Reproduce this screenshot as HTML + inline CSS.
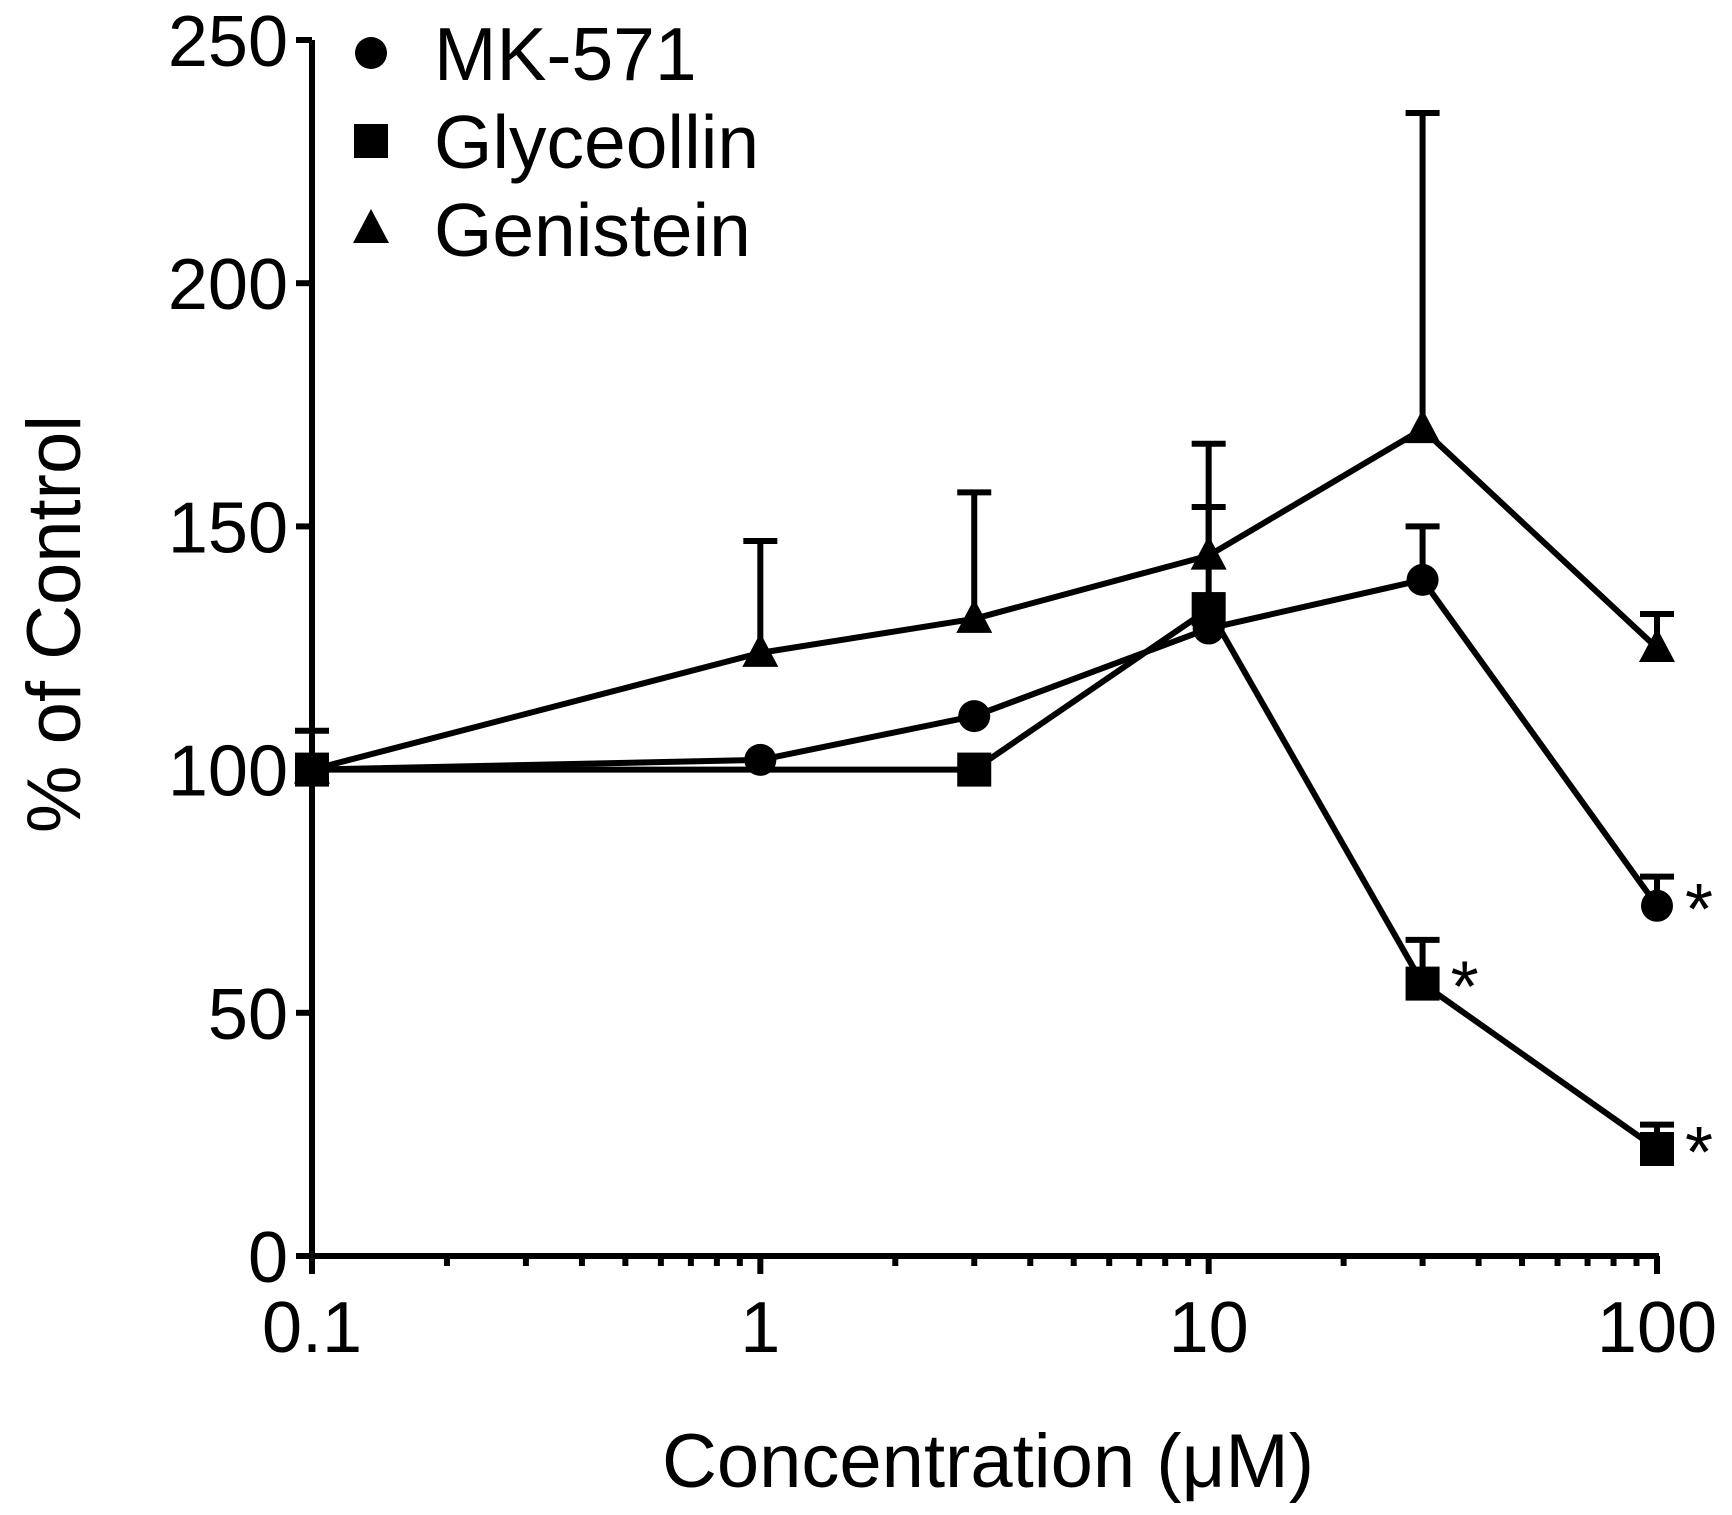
<!DOCTYPE html>
<html><head><meta charset="utf-8"><style>
html,body{margin:0;padding:0;background:#fff;}
svg text{font-family:"Liberation Sans",Arial,sans-serif;fill:#000;}
</style></head><body>
<svg id="chart" width="1732" height="1510" viewBox="0 0 1732 1510" xmlns="http://www.w3.org/2000/svg">
<g id="axes"></g>
<g id="series"></g>
<g id="legend"></g>
<text x="988" y="1487" font-size="76" text-anchor="middle">Concentration (μM)</text>
<text transform="translate(80,624) rotate(-90)" font-size="76" text-anchor="middle">% of Control</text>
</svg>
<script>
const xTicks = [0.1, 1, 10, 100];
const xTickLabels = ["0.1", "1", "10", "100"];
const yTicks = [0, 50, 100, 150, 200, 250];
const seriesNames = ["MK-571", "Glyceollin", "Genistein"];
const mkX = [0.1, 1, 3, 10, 30, 100];
const mkY = [100, 102, 111, 129, 139, 72];
const mkErr = [0, 0, 0, 0, 11, 6];
const glyX = [0.1, 3, 10, 30, 100];
const glyY = [100, 100, 133, 56, 22];
const glyErr = [8, 0, 21, 9, 5];
const genX = [0.1, 1, 3, 10, 30, 100];
const genY = [100, 124, 131, 144, 170, 125];
const genErr = [0, 23, 26, 23, 65, 7];
const mkStars = [false, false, false, false, false, true];
const glyStars = [false, false, false, true, true];

const NS = "http://www.w3.org/2000/svg";
const X0 = 312, X1 = 1657, Y0 = 1256, Y1 = 40;
function xs(v){ return X0 + (Math.log10(v) - Math.log10(0.1)) / 3 * (X1 - X0); }
function ys(v){ return Y0 - v / 250 * (Y0 - Y1); }
function mk(tag, attrs, parent){ const e = document.createElementNS(NS, tag); for (const k in attrs) e.setAttribute(k, attrs[k]); parent.appendChild(e); return e; }
const axes = document.getElementById('axes');
const ser = document.getElementById('series');
const leg = document.getElementById('legend');
const SW = 6;

let el = mk('line', {x1:X0, y1:Y1, x2:X0, y2:Y0, stroke:'#000', 'stroke-width':SW}, axes);


el = mk('line', {x1:X0-2, y1:Y0, x2:X1+2, y2:Y0, stroke:'#000', 'stroke-width':SW}, axes);


yTicks.forEach(t => {
  const y = ys(t);
  let tk = mk('line', {x1:X0-16, y1:y, x2:X0, y2:y, stroke:'#000', 'stroke-width':SW}, axes);
  
  
  let tx = mk('text', {x:X0-24, y:y+26, 'font-size':72, 'text-anchor':'end'}, axes);
  tx.textContent = String(t);
  
  
});
xTicks.forEach((t, i) => {
  const x = xs(t);
  let tk = mk('line', {x1:x, y1:Y0, x2:x, y2:Y0+18, stroke:'#000', 'stroke-width':SW}, axes);
  
  
  let tx = mk('text', {x:x, y:Y0+96, 'font-size':72, 'text-anchor':'middle'}, axes);
  tx.textContent = xTickLabels[i];
  
  
  if (i < xTicks.length - 1) {
    for (let m = 2; m <= 9; m++) {
      const mx = xs(t * m);
      let mt = mk('line', {x1:mx, y1:Y0, x2:mx, y2:Y0+10, stroke:'#000', 'stroke-width':SW}, axes);
      
      
    }
  }
});

function marker(shape, x, y, parent){
  let m;
  if (shape === 'circle') m = mk('circle', {cx:x, cy:y, r:16, fill:'#000'}, parent);
  else if (shape === 'square') m = mk('rect', {x:x-17, y:y-17, width:34, height:34, fill:'#000'}, parent);
  else m = mk('polygon', {points:`${x},${y-20} ${x-18},${y+14} ${x+18},${y+14}`, fill:'#000'}, parent);
  return m;
}
function drawSeries(name, shape, X, Y, E, S){
  const g = mk('g', {}, ser);
  
  
  const pts = X.map((v, i) => xs(v) + ',' + ys(Y[i])).join(' ');
  let pl = mk('polyline', {points:pts, fill:'none', stroke:'#000', 'stroke-width':SW, 'stroke-linejoin':'round'}, g);
  
  
  X.forEach((v, i) => {
    const x = xs(v), y = ys(Y[i]);
    if (E[i] > 0) {
      const yt = ys(Y[i] + E[i]);
      let eb = mk('path', {d:`M${x},${y} V${yt} M${x-17},${yt} H${x+17}`, stroke:'#000', 'stroke-width':SW, fill:'none'}, g);
      
      
    }
    const m = marker(shape, x, y, g);
    
    
    if (S && S[i]) {
      let st = mk('text', {x:x+28, y:y+28, 'font-size':72}, g);
      st.textContent = '*';
      
      
    }
  });
}
drawSeries('genistein', 'triangle', genX, genY, genErr, null);
drawSeries('mk-571', 'circle', mkX, mkY, mkErr, mkStars);
drawSeries('glyceollin', 'square', glyX, glyY, glyErr, glyStars);

const shapes = ['circle', 'square', 'triangle'];
seriesNames.forEach((n, i) => {
  const y = 53 + i * 88;
  const m = marker(shapes[i], 371, y, leg);
  
  
  let t = mk('text', {x:434, y:y+27, 'font-size':75}, leg);
  t.textContent = n;
  
  
});
</script>
</body></html>
